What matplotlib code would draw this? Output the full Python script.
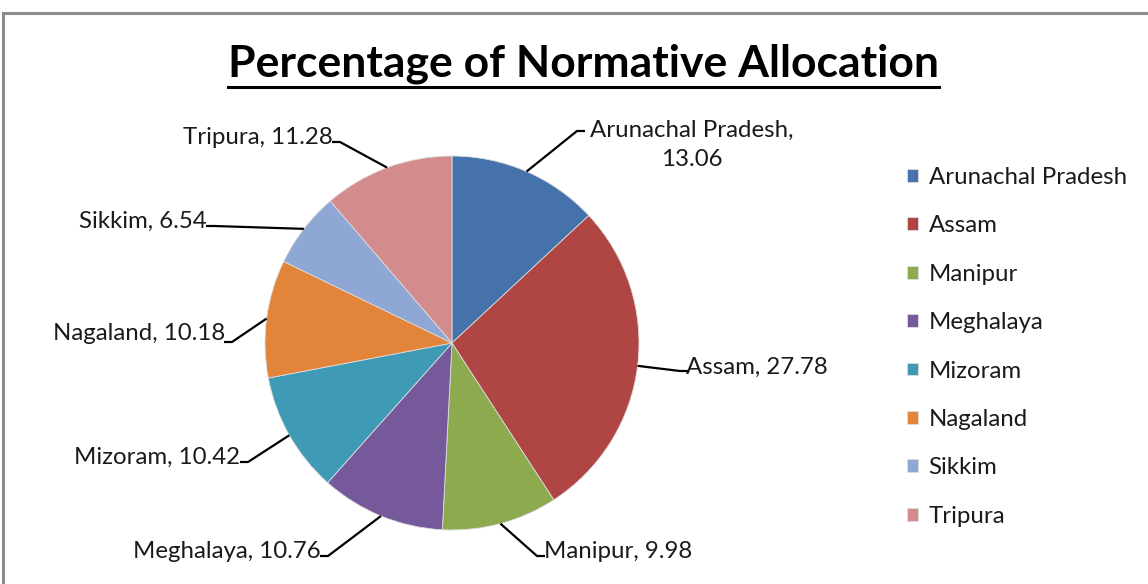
import numpy as np
import matplotlib
matplotlib.use("Agg")
import matplotlib.pyplot as plt
from matplotlib.patches import Rectangle
from matplotlib.lines import Line2D

states = ["Arunachal Pradesh", "Assam", "Manipur", "Meghalaya",
          "Mizoram", "Nagaland", "Sikkim", "Tripura"]
shares = [13.06, 27.78, 9.98, 10.76, 10.42, 10.18, 6.54, 11.28]
colors = ["#4672AB", "#AF4644", "#8DAA4F", "#76599A",
          "#3F9AB6", "#E2843A", "#8EA7D5", "#D48B8D"]

W, H = 1148, 584
CX, CY, R = 452, 343, 187   # pie centre / radius in pixels

# leader line elbow points and where the text sits (pixels, y down)
elbows = [(577, 131), (680, 371), (537, 556), (328, 556),
          (248, 462), (232, 342), (214, 226), (340, 142)]
text_pos = [(590, 145), (686, 367), (544, 552), (321, 552),
            (240, 457), (225, 334), (207, 221), (333, 137)]
text_ha = ["left", "left", "left", "right", "right", "right", "right", "right"]

FONT = "Lato"
FS = 17.3

fig = plt.figure(figsize=(W / 100, H / 100), dpi=100)
fig.patch.set_facecolor("white")
ax = fig.add_axes([0, 0, 1, 1])

# y axis is flipped, so counterclockwise in data == clockwise on screen
wedges, _ = ax.pie(shares, colors=colors, startangle=-90, counterclock=True,
                   center=(CX, CY), radius=R,
                   wedgeprops=dict(linewidth=0.6, edgecolor="#dddddd"))
ax.set_xlim(0, W)
ax.set_ylim(H, 0)
ax.set_aspect("equal")
ax.axis("off")

for i, w in enumerate(wedges):
    mid = np.deg2rad((w.theta1 + w.theta2) / 2)
    sx = CX + R * np.cos(mid)
    sy = CY + R * np.sin(mid)
    ex, ey = elbows[i]
    hx = ex + (8 if text_ha[i] == "left" else -8)
    ax.plot([sx, ex, hx], [sy, ey, ey], color="black", lw=1.6,
            solid_capstyle="butt")
    if i == 0:
        lab = states[i] + ",\n" + f"{shares[i]:.2f}"
    else:
        lab = f"{states[i]}, {shares[i]:.2f}"
    ax.text(text_pos[i][0], text_pos[i][1], lab, ha=text_ha[i], va="center",
            multialignment="center", fontsize=FS, family=FONT,
            color="#1a1a1a", linespacing=1.5)

leg = ax.legend(wedges, states, loc="upper left",
                bbox_to_anchor=(895 / W, 1 - 155 / H),
                frameon=False, prop={"family": FONT, "size": FS},
                handlelength=0.45, handleheight=0.45, handletextpad=0.45,
                labelspacing=1.14, borderpad=0, labelcolor="#1a1a1a")

# title with underline
title = fig.text(583 / W, 1 - 64 / H, "Percentage of Normative Allocation",
                 ha="center", va="center", fontsize=32, fontweight="bold",
                 family=FONT, color="black")
fig.canvas.draw()
bb = title.get_window_extent(fig.canvas.get_renderer())
uy = H - 87
fig.add_artist(Line2D([bb.x0 / W, bb.x1 / W], [uy / H, uy / H],
                      transform=fig.transFigure, color="black", lw=2.2))

# chart frame running off the right and bottom edges
fig.add_artist(Rectangle((3 / W, -0.1), 1.2, 1 - 13 / H + 0.1,
                         transform=fig.transFigure, fill=False,
                         edgecolor="#8c8c8c", lw=2.2))

fig.savefig("out.png", dpi=100, facecolor="white")
